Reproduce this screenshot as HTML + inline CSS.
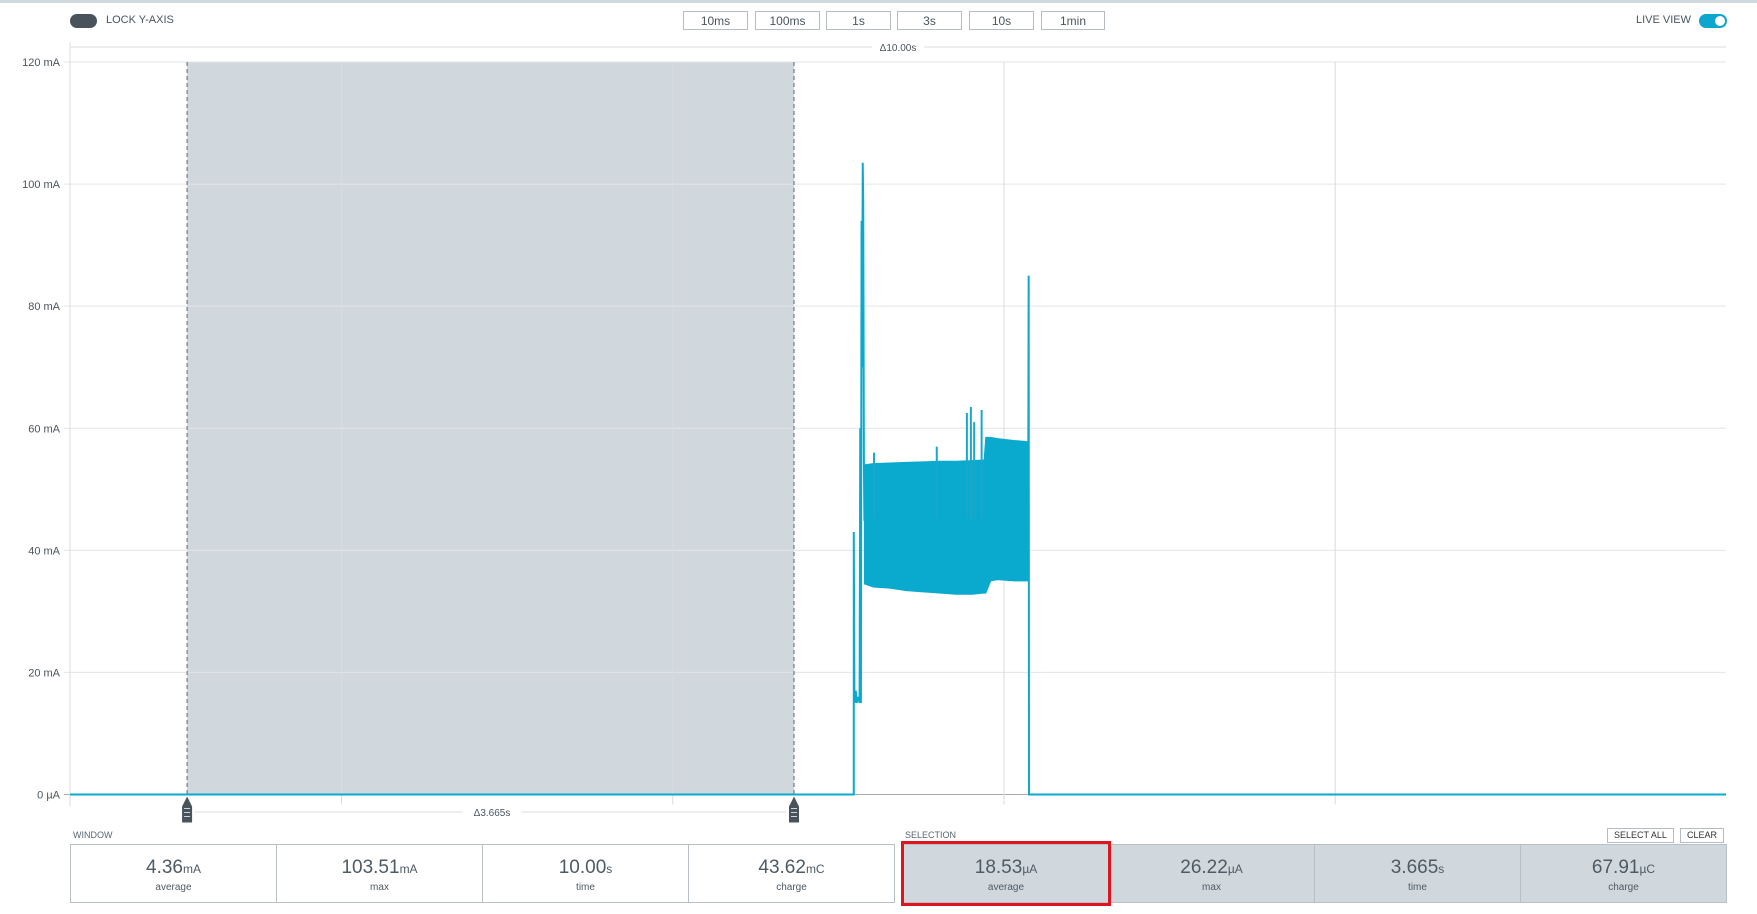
<!DOCTYPE html>
<html><head><meta charset="utf-8"><style>
body{margin:0;width:1757px;height:914px;background:#fff;font-family:"Liberation Sans",sans-serif;color:#5a6670;position:relative;overflow:hidden}
.abs{position:absolute}
.btn{position:absolute;top:11px;height:19px;border:1px solid #b5bdc3;font-size:12px;line-height:19px;text-align:center;color:#4a5560;box-sizing:border-box;background:#fff}
.cell{position:absolute;top:844px;height:59px;box-sizing:border-box;text-align:center;border:1px solid #b8c0c6}
.cell .v{font-size:19px;color:#4e5a64;margin-top:12px}
.cell .v small{font-size:12px}
.cell .l{font-size:10px;color:#4e5a64;margin-top:3px}
.sel{background:#d0d8de}
.sb{position:absolute;top:828px;height:13px;border:1px solid #b5bdc3;font-size:9px;line-height:13px;padding:0 6px;color:#333;background:#fff}
</style></head><body>
<div class="abs" style="left:0;top:0;width:1757px;height:3px;background:#cfd8dd"></div>
<div class="abs" style="left:70px;top:14px;width:27px;height:14px;border-radius:7px;background:#48535c"></div>
<div class="abs" style="left:106px;top:14px;font-size:11px;color:#4a5560">LOCK Y-AXIS</div>
<div class="btn" style="left:683px;width:65px">10ms</div>
<div class="btn" style="left:755px;width:65px">100ms</div>
<div class="btn" style="left:826px;width:65px">1s</div>
<div class="btn" style="left:897px;width:65px">3s</div>
<div class="btn" style="left:969px;width:65px">10s</div>
<div class="btn" style="left:1041px;width:64px">1min</div>
<div class="abs" style="left:1636px;top:14px;font-size:11px;color:#4a5560">LIVE VIEW</div>
<div class="abs" style="left:1699px;top:14px;width:28px;height:14px;border-radius:7px;background:#0ea5cf"><div style="position:absolute;right:2px;top:2px;width:10px;height:10px;border-radius:5px;background:#fff"></div></div>

<svg class="abs" style="left:0;top:0" width="1757" height="830" id="chart"></svg>

<div class="abs" style="left:73px;top:830px;font-size:9px">WINDOW</div>
<div class="abs" style="left:905px;top:830px;font-size:9px">SELECTION</div>
<div class="sb" style="left:1607px">SELECT ALL</div>
<div class="sb" style="left:1680px">CLEAR</div>
<div class="cell" style="left:70px;width:207px"><div class="v">4.36<small>mA</small></div><div class="l">average</div></div>
<div class="cell" style="left:276px;width:207px"><div class="v">103.51<small>mA</small></div><div class="l">max</div></div>
<div class="cell" style="left:482px;width:207px"><div class="v">10.00<small>s</small></div><div class="l">time</div></div>
<div class="cell" style="left:688px;width:207px"><div class="v">43.62<small>mC</small></div><div class="l">charge</div></div>
<div class="cell sel" style="left:903px;width:206px"><div class="v">18.53<small>µA</small></div><div class="l">average</div></div>
<div class="cell sel" style="left:1108px;width:207px"><div class="v">26.22<small>µA</small></div><div class="l">max</div></div>
<div class="cell sel" style="left:1314px;width:207px"><div class="v">3.665<small>s</small></div><div class="l">time</div></div>
<div class="cell sel" style="left:1520px;width:207px"><div class="v">67.91<small>µC</small></div><div class="l">charge</div></div>
<div class="abs" style="left:901px;top:841px;width:210px;height:65px;border:3px solid #e0141e;box-sizing:border-box"></div>

<script>
const yTicks=[0,20,40,60,80,100,120];
const yTickLabels=["0 µA","20 mA","40 mA","60 mA","80 mA","100 mA","120 mA"];
const xGridTimes=[1.64,3.64,5.64,7.64];
const selStart=0.707, selEnd=4.372;
const lineTimes=[0,4.733,4.733,4.737,4.745,4.75,4.76,4.768,4.772,4.776,4.780,4.784,4.787,4.790,4.794,4.797,5.786,5.789,5.791,5.795,10];
const lineValues=[0,0,43,15,17,15,16,15,60,15,94,70,103.5,97,55,45,45,85,0,0,0];
const bandTimes=[4.797,4.85,4.95,5.05,5.15,5.25,5.35,5.45,5.52,5.53,5.56,5.60,5.70,5.785];
const bandTop=[54,54.2,54.3,54.4,54.5,54.6,54.6,54.7,54.8,58.5,58.5,58.3,58,57.8];
const bandBottom=[34.5,34,33.8,33.4,33.2,33,32.8,32.8,33,33,35,35.2,35,35];
const spikeTimes=[4.855,5.234,5.416,5.44,5.46,5.505];
const spikeValues=[56,57,62.5,63.5,61,63];

const L=70,R=1726,T=62,B=794.5;
const x=t=>L+(t/10)*(R-L);
const y=v=>B-(v/120)*(B-T);
const svg=document.getElementById('chart');
const NS='http://www.w3.org/2000/svg';
function mk(tag,attrs){const e=document.createElementNS(NS,tag);for(const k in attrs)e.setAttribute(k,attrs[k]);svg.appendChild(e);return e;}
let e;
e=mk('rect',{x:x(selStart),y:T,width:x(selEnd)-x(selStart),height:B-T,fill:'#d0d8de'});


yTicks.forEach((v,i)=>{
 e=mk('line',{x1:L-6,x2:R,y1:y(v),y2:y(v),stroke:i==0?'#aaa':'#e2e5e7','stroke-width':1});
 
 
 e=mk('text',{x:L-10,y:y(v)+4,'text-anchor':'end','font-size':11,fill:'#4a5560'});e.textContent=yTickLabels[i];
 
 
});
xGridTimes.forEach(t=>{
 e=mk('line',{x1:x(t),x2:x(t),y1:T,y2:B+10,stroke:'#d8dcdf','stroke-width':1});
 
 
});
e=mk('line',{x1:L,x2:L,y1:T-20,y2:B+12,stroke:'#d8dcdf'});


e=mk('line',{x1:L,x2:R,y1:47,y2:47,stroke:'#d8dcdf'});


e=mk('rect',{x:872,y:40,width:52,height:14,fill:'#fff'});
e=mk('text',{x:898,y:51,'text-anchor':'middle','font-size':10,fill:'#4a5560'});e.textContent='Δ10.00s';


[selStart,selEnd].forEach(t=>{
 e=mk('line',{x1:x(t),x2:x(t),y1:T,y2:B,stroke:'#5a6670','stroke-dasharray':'4,3'});
 
 
 e=mk('path',{d:`M${x(t)-5},${B+28} v-16 l5,-10 l5,10 v16 z`,fill:'#48535c'});
 
 
 [0,4,8].forEach(o=>mk('line',{x1:x(t)-3,x2:x(t)+3,y1:B+14+o,y2:B+14+o,stroke:'#cfd6db'}));
});
e=mk('line',{x1:x(selStart)+8,x2:x(selEnd)-8,y1:812,y2:812,stroke:'#d8dcdf'});


e=mk('rect',{x:462,y:805,width:60,height:14,fill:'#fff'});
e=mk('text',{x:492,y:816,'text-anchor':'middle','font-size':10,fill:'#4a5560'});e.textContent='Δ3.665s';


let d='M'+bandTimes.map((t,i)=>x(t)+','+y(bandTop[i])).join(' L');
d+=' L'+bandTimes.slice().reverse().map((t,i)=>x(t)+','+y(bandBottom[bandTimes.length-1-i])).join(' L')+' Z';
e=mk('path',{d:d,fill:'#0aaacf',stroke:'#0aaacf','stroke-width':1});


spikeTimes.forEach((t,i)=>{
 e=mk('line',{x1:x(t),x2:x(t),y1:y(45),y2:y(spikeValues[i]),stroke:'#1aa7cc','stroke-width':2});
 
 
});
e=mk('polyline',{points:lineTimes.map((t,i)=>x(t)+','+y(lineValues[i])).join(' '),fill:'none',stroke:'#0aaacf','stroke-width':2});


</script>
</body></html>
